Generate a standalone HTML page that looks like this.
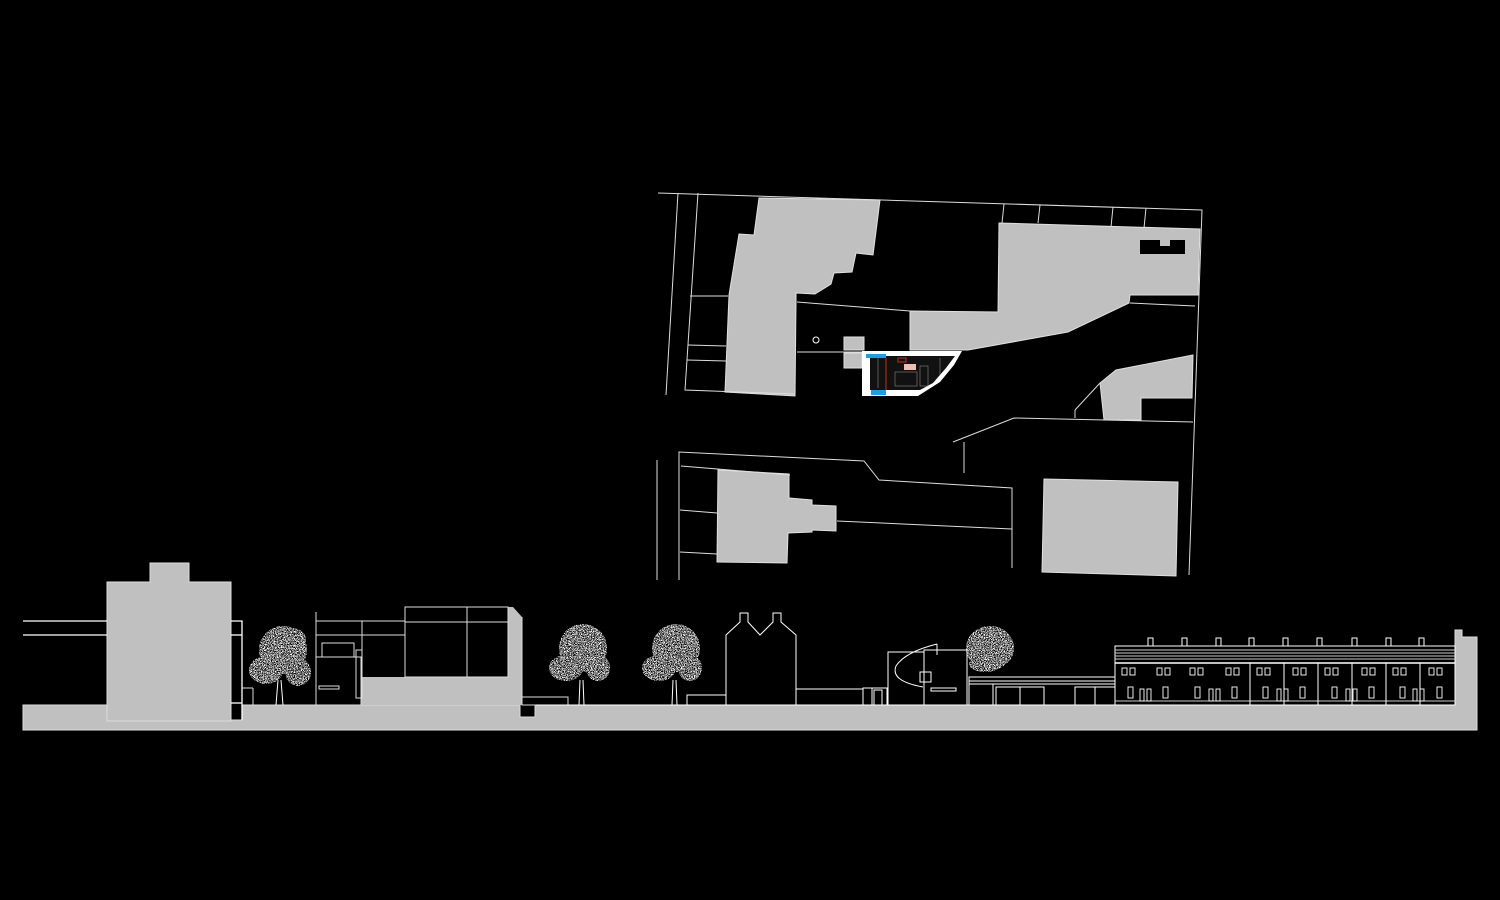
<!DOCTYPE html>
<html><head><meta charset="utf-8"><style>
html,body{margin:0;padding:0;background:#000;}
svg{display:block;}
</style></head><body>
<svg width="1500" height="900" viewBox="0 0 1500 900" xmlns="http://www.w3.org/2000/svg">
<defs>
<filter id="speck" x="-10%" y="-10%" width="120%" height="120%">
<feTurbulence type="fractalNoise" baseFrequency="1.3" numOctaves="2" seed="7" result="n"/>
<feColorMatrix in="n" type="matrix" values="0 0 0 0 1  0 0 0 0 1  0 0 0 0 1  0 0 0 12 -5.6" result="m"/>
<feComposite in="m" in2="SourceGraphic" operator="in"/>
</filter>
</defs>
<rect width="1500" height="900" fill="#000"/>

<!-- SITE PLAN -->
<g fill="#c0c0c0" stroke="#e0e0e0" stroke-width="1">
<polygon points="759,198 880,200 873,255 856,253 852,272 834,273 831,284 815,294 796,293 796,302 795,396 725,392 729,295 739,234 754,235"/>
<polygon points="999,223 1200,229 1198,295 1130,295 1129,303 1068,332 968,350 910,350 910,311 998,312"/>
<polygon points="1100,383 1116,370 1193,355 1192,398 1141,398 1141,420 1104,420"/>
<polygon points="718,470 789,474 789,498 812,500 812,505 836,506 836,531 812,530 812,532 788,533 787,563 717,562"/>
<polygon points="1044,479 1178,482 1176,576 1042,572"/>
<rect x="844" y="337" width="20" height="13"/>
<rect x="844" y="353" width="18" height="15"/>
</g>
<rect x="1140" y="240" width="45" height="14" fill="#000"/>
<rect x="1160" y="240" width="10" height="6" fill="#c0c0c0"/>
<g fill="none" stroke="#ddd" stroke-width="1">
<polyline points="658,193 1202,210 1189,575"/>
<polyline points="678,193 666,395 Q 667,405 680,406 L 921,407 922,398"/>
<polyline points="698,193 685,390 795,394"/>
<line x1="690" y1="296" x2="728" y2="296"/>
<line x1="688" y1="345" x2="726" y2="346"/>
<line x1="687" y1="360" x2="726" y2="361"/>
<line x1="797" y1="302" x2="910" y2="311"/>
<line x1="797" y1="352" x2="862" y2="352"/>
<line x1="1004" y1="204" x2="1002" y2="223"/>
<line x1="1040" y1="205" x2="1038" y2="223"/>
<line x1="1113" y1="207" x2="1111" y2="227"/>
<line x1="1146" y1="208" x2="1144" y2="228"/>
<line x1="1130" y1="303" x2="1195" y2="306"/>
<polyline points="657,580 657,460 Q 660,440 677,438 L 871,449 884,463 1037,478"/>
<polyline points="679,580 679,452 864,461 879,480 1012,488 1012,568"/>
<polyline points="681,466 790,475"/>
<line x1="680" y1="510" x2="717" y2="513"/>
<line x1="680" y1="552" x2="717" y2="554"/>
<line x1="837" y1="521" x2="1012" y2="529"/>
<polyline points="953,442 1014,418 1193,422"/>
<line x1="964" y1="442" x2="964" y2="473"/>
<line x1="1075" y1="410" x2="1100" y2="383"/>
<line x1="1075" y1="410" x2="1075" y2="418"/>
</g>
<!-- white building -->
<polygon points="862,351 962,351 954,365 940,382 918,396 862,396" fill="#fff"/>
<polygon points="870,356 955,356 946,368 933,383 920,390 870,390" fill="#111"/>
<rect x="866" y="354" width="20" height="4" fill="#1aa0e8"/>
<rect x="871" y="390" width="15" height="5" fill="#1aa0e8"/>
<line x1="886" y1="358" x2="886" y2="390" stroke="#c0301a" stroke-width="1"/>
<rect x="898" y="358" width="8" height="4" fill="none" stroke="#c0301a"/>
<rect x="904" y="364" width="12" height="6" fill="#e8c0b0"/>
<g stroke="#888" stroke-width="0.6" fill="none">
<rect x="895" y="372" width="22" height="14"/>
<rect x="920" y="366" width="8" height="20"/>
<line x1="878" y1="358" x2="878" y2="388"/>
<line x1="940" y1="358" x2="940" y2="375"/>
</g>
<circle cx="816" cy="340" r="3" fill="none" stroke="#fff"/>

<!-- ELEVATION -->
<polygon points="23,705 107,705 107,720 242,720 242,705 520,705 520,717 535,717 535,705 1455,705 1455,630 1462,630 1462,637 1477,637 1477,730 23,730" fill="#c0c0c0" stroke="#ddd"/>
<polygon points="107,582 150,582 150,563 189,563 189,582 231,582 231,721 107,721" fill="#c0c0c0" stroke="#ddd"/>
<g fill="none" stroke="#fff" stroke-width="1.3">
<line x1="23" y1="621" x2="107" y2="621"/>
<line x1="23" y1="635" x2="107" y2="635"/>
<polyline points="231,621 242,621 242,720"/>
<line x1="231" y1="635" x2="242" y2="635"/>
<line x1="231" y1="703" x2="242" y2="703"/>
</g>
<rect x="361" y="677" width="147" height="28" fill="#c0c0c0"/>
<polygon points="508,607 513,607 522,617 522,705 508,705" fill="#c0c0c0"/>
<g fill="none" stroke="#ddd" stroke-width="1">
<rect x="405" y="607" width="103" height="70"/>
<line x1="467" y1="607" x2="467" y2="677"/>
<line x1="405" y1="622" x2="508" y2="622"/>
<line x1="316" y1="621" x2="405" y2="621"/>
<line x1="316" y1="635" x2="405" y2="635"/>
<line x1="362" y1="621" x2="362" y2="677"/>
<line x1="316" y1="612" x2="316" y2="705"/>
<rect x="316" y="657" width="45" height="48"/>
<rect x="322" y="643" width="32" height="14"/>
<rect x="356" y="650" width="6" height="48"/>
<rect x="319" y="686" width="20" height="3"/>
<line x1="242" y1="688" x2="253" y2="688"/>
<line x1="253" y1="688" x2="253" y2="705"/>
<line x1="522" y1="617" x2="522" y2="705"/>
<rect x="522" y="697" width="46" height="8"/>
</g>
<g fill="none" stroke="#fff" stroke-width="1">
<polyline points="726,705 726,635 740,622 740,613 748,613 748,622 760,635 773,622 773,613 781,613 781,622 796,635 796,705"/>
<polyline points="687,705 687,695 726,695"/>
<polyline points="796,689 863,689"/>
<rect x="863" y="688" width="9" height="17"/>
<polyline points="872,688 887,688 887,705"/>
<line x1="536" y1="705" x2="888" y2="705"/>
</g>
<g fill="none" stroke="#fff" stroke-width="1">
<rect x="888" y="652" width="36" height="53"/>
<rect x="924" y="650" width="43" height="55"/>
<path d="M937,644 Q905,652 896,666 Q890,681 923,687"/>
<line x1="937" y1="644" x2="937" y2="655"/>
<rect x="920" y="672" width="11" height="10"/>
<rect x="931" y="688" width="25" height="3"/>
<rect x="874" y="690" width="8" height="15"/>
</g>
<g fill="none" stroke="#fff" stroke-width="1">
<rect x="969" y="677" width="146" height="28"/>
<line x1="969" y1="681" x2="1115" y2="681"/>
<line x1="969" y1="684" x2="1115" y2="684"/>
<line x1="993" y1="684" x2="993" y2="705"/>
<rect x="996" y="687" width="48" height="18"/>
<line x1="1020" y1="687" x2="1020" y2="705"/>
<rect x="1075" y="687" width="40" height="18"/>
<line x1="1095" y1="687" x2="1095" y2="705"/>
</g>
<rect x="1115" y="646" width="340" height="59" fill="#000" stroke="#fff"/>
<g stroke="#ccc" stroke-width="1">
<line x1="1115" y1="650" x2="1455" y2="650"/>
<line x1="1115" y1="653" x2="1455" y2="653"/>
<line x1="1115" y1="656" x2="1455" y2="656"/>
<line x1="1115" y1="659" x2="1455" y2="659"/>
<line x1="1115" y1="663" x2="1455" y2="663" stroke="#fff" stroke-width="1.5"/>
<line x1="1115" y1="701" x2="1455" y2="701"/>
</g>
<g fill="none" stroke="#fff" stroke-width="1">
<rect x="1148" y="638" width="5" height="8"/><rect x="1182" y="638" width="5" height="8"/>
<rect x="1216" y="638" width="5" height="8"/><rect x="1249" y="638" width="5" height="8"/>
<rect x="1283" y="638" width="5" height="8"/><rect x="1317" y="638" width="5" height="8"/>
<rect x="1352" y="638" width="5" height="8"/><rect x="1386" y="638" width="5" height="8"/>
<rect x="1419" y="638" width="5" height="8"/>
<line x1="1250" y1="663" x2="1250" y2="705"/><line x1="1284" y1="663" x2="1284" y2="705"/>
<line x1="1318" y1="663" x2="1318" y2="705"/><line x1="1352" y1="663" x2="1352" y2="705"/>
<line x1="1386" y1="663" x2="1386" y2="705"/><line x1="1420" y1="663" x2="1420" y2="705"/>
</g>
<g fill="none" stroke="#fff" stroke-width="0.9">
<rect x="1122" y="668" width="5" height="7"/><rect x="1130" y="668" width="5" height="7"/>
<rect x="1157" y="668" width="5" height="7"/><rect x="1165" y="668" width="5" height="7"/>
<rect x="1190" y="668" width="5" height="7"/><rect x="1198" y="668" width="5" height="7"/>
<rect x="1226" y="668" width="5" height="7"/><rect x="1234" y="668" width="5" height="7"/>
<rect x="1257" y="668" width="5" height="7"/><rect x="1265" y="668" width="5" height="7"/>
<rect x="1293" y="668" width="5" height="7"/><rect x="1301" y="668" width="5" height="7"/>
<rect x="1325" y="668" width="5" height="7"/><rect x="1333" y="668" width="5" height="7"/>
<rect x="1362" y="668" width="5" height="7"/><rect x="1370" y="668" width="5" height="7"/>
<rect x="1393" y="668" width="5" height="7"/><rect x="1401" y="668" width="5" height="7"/>
<rect x="1429" y="668" width="5" height="7"/><rect x="1437" y="668" width="5" height="7"/>
<rect x="1128" y="687" width="5" height="11"/><rect x="1140" y="689" width="4" height="12"/><rect x="1147" y="689" width="4" height="12"/><rect x="1163" y="687" width="5" height="11"/>
<rect x="1195" y="687" width="5" height="11"/><rect x="1209" y="689" width="4" height="12"/><rect x="1216" y="689" width="4" height="12"/><rect x="1232" y="687" width="5" height="11"/>
<rect x="1263" y="687" width="5" height="11"/><rect x="1277" y="689" width="4" height="12"/><rect x="1284" y="689" width="4" height="12"/><rect x="1300" y="687" width="5" height="11"/>
<rect x="1332" y="687" width="5" height="11"/><rect x="1346" y="689" width="4" height="12"/><rect x="1353" y="689" width="4" height="12"/><rect x="1369" y="687" width="5" height="11"/>
<rect x="1400" y="687" width="5" height="11"/><rect x="1413" y="689" width="4" height="12"/><rect x="1420" y="689" width="4" height="12"/><rect x="1437" y="687" width="5" height="11"/>
</g>

<!-- trees -->
<g filter="url(#speck)" fill="#fff">
<g><ellipse cx="283" cy="650" rx="24" ry="24"/><ellipse cx="266" cy="670" rx="17" ry="14"/><ellipse cx="298" cy="672" rx="13" ry="14"/><ellipse cx="292" cy="640" rx="14" ry="12"/></g>
<g><ellipse cx="583" cy="648" rx="24" ry="24"/><ellipse cx="566" cy="668" rx="17" ry="13"/><ellipse cx="598" cy="668" rx="12" ry="13"/></g>
<g><ellipse cx="676" cy="648" rx="24" ry="24"/><ellipse cx="659" cy="668" rx="17" ry="13"/><ellipse cx="690" cy="668" rx="12" ry="13"/></g>
<g><ellipse cx="990" cy="648" rx="24" ry="22"/><ellipse cx="985" cy="664" rx="16" ry="8"/></g>
</g>
<g stroke="#fff" stroke-width="1" fill="none">
<line x1="278" y1="680" x2="276" y2="705"/><line x1="281" y1="680" x2="283" y2="705"/>
<line x1="580" y1="680" x2="579" y2="705"/><line x1="583" y1="680" x2="584" y2="705"/>
<line x1="673" y1="680" x2="672" y2="705"/><line x1="676" y1="680" x2="677" y2="705"/>
</g>
</svg>
</body></html>
